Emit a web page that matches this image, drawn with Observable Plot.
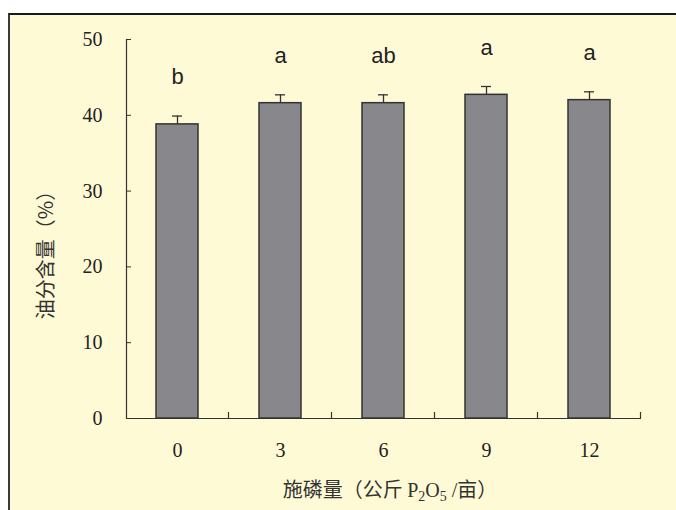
<!DOCTYPE html>
<html><head><meta charset="utf-8">
<script src="https://cdn.jsdelivr.net/npm/d3@7"></script>
<script src="https://cdn.jsdelivr.net/npm/@observablehq/plot@0.6"></script>
<style>
body{margin:0;background:#fff;width:676px;height:510px;overflow:hidden;position:relative}
#panel{position:absolute;left:8px;top:13px;right:0;bottom:0;background:#fffad6;border-left:2px solid #3a3a3a;border-top:2px solid #1a1a1a}
#chart{position:absolute;left:0;top:0}
</style></head>
<body><div id="panel"></div><div id="chart"></div>
<script>
const doses = ["0", "3", "6", "9", "12"];
const oil = [38.8, 41.6, 41.6, 42.7, 42.0];
const err = [1.1, 1.1, 1.1, 1.1, 1.1];
const letters = ["b", "a", "ab", "a", "a"];
const yTicks = [0, 10, 20, 30, 40, 50];
const yTitle = "油分含量（%）";

const data = doses.map((d, i) => ({dose: d, oil: oil[i], top: oil[i] + err[i], letter: letters[i]}));

const chart = Plot.plot({
  width: 676, height: 510,
  marginLeft: 126, marginRight: 35, marginTop: 39, marginBottom: 92,
  style: {background: "transparent", fontFamily: "Liberation Serif", fontSize: "20px", color: "#222"},
  x: {domain: doses, paddingInner: 0.59, paddingOuter: 0.295, label: null},
  y: {domain: [0, 50], label: null},
  marks: [
    Plot.ruleX(data, {x: "dose", y1: "oil", y2: "top", stroke: "#333", strokeWidth: 1.3}),
    Plot.tickY(data, {x: "dose", y: "top", stroke: "#333", strokeWidth: 1.3, insetLeft: 16, insetRight: 16}),
    Plot.barY(data, {x: "dose", y: "oil", fill: "#88888c", stroke: "#333", strokeWidth: 1.5}),
    Plot.text(data, {x: "dose", y: "top", text: "letter", dy: -39, fontFamily: "Liberation Sans", fontSize: 22, fill: "#222"}),
    Plot.axisY({ticks: yTicks, tickSize: 0, tickPadding: 24, fontSize: 20, fill: "#222"}),
    Plot.axisY({ticks: yTicks, tickSize: 5, dx: 5, tickFormat: () => "", stroke: "#333"}),
    Plot.axisX({tickSize: 0, tickPadding: 24, fontSize: 20, fill: "#222"}),
    Plot.frame({anchor: "left", stroke: "#333", strokeWidth: 1.2}),
    Plot.ruleY([0], {stroke: "#333", strokeWidth: 1.2})
  ]
});
document.getElementById("chart").append(chart);

const svg = d3.select(chart);
const x = chart.scale("x"), y = chart.scale("y");
const step = x.step, bw = x.bandwidth;
const y0 = y.apply(0);
doses.forEach(d => {
  const bx = x.apply(d) + bw + (step - bw) / 2;
  svg.append("line").attr("x1", bx).attr("x2", bx).attr("y1", y0).attr("y2", y0 - 6)
    .attr("stroke", "#333").attr("stroke-width", 1.2);
});

svg.append("text")
  .attr("transform", "translate(44,250) rotate(-90)")
  .attr("text-anchor", "middle").attr("dominant-baseline", "central")
  .attr("font-family", "Noto Sans CJK SC").attr("font-size", 20).attr("fill", "#333")
  .text(yTitle);

const xt = svg.append("text")
  .attr("x", 390).attr("y", 497).attr("text-anchor", "middle")
  .attr("font-family", "Liberation Serif, Noto Sans CJK SC").attr("font-size", 20).attr("fill", "#333");
xt.append("tspan").attr("font-family", "Noto Sans CJK SC").text("施磷量（公斤 ");
xt.append("tspan").text("P");
xt.append("tspan").attr("font-size", 14).attr("dy", 4).text("2");
xt.append("tspan").attr("dy", -4).text("O");
xt.append("tspan").attr("font-size", 14).attr("dy", 4).text("5");
xt.append("tspan").attr("dy", -4).text(" /");
xt.append("tspan").attr("font-family", "Noto Sans CJK SC").text("亩）");
</script>
</body></html>
